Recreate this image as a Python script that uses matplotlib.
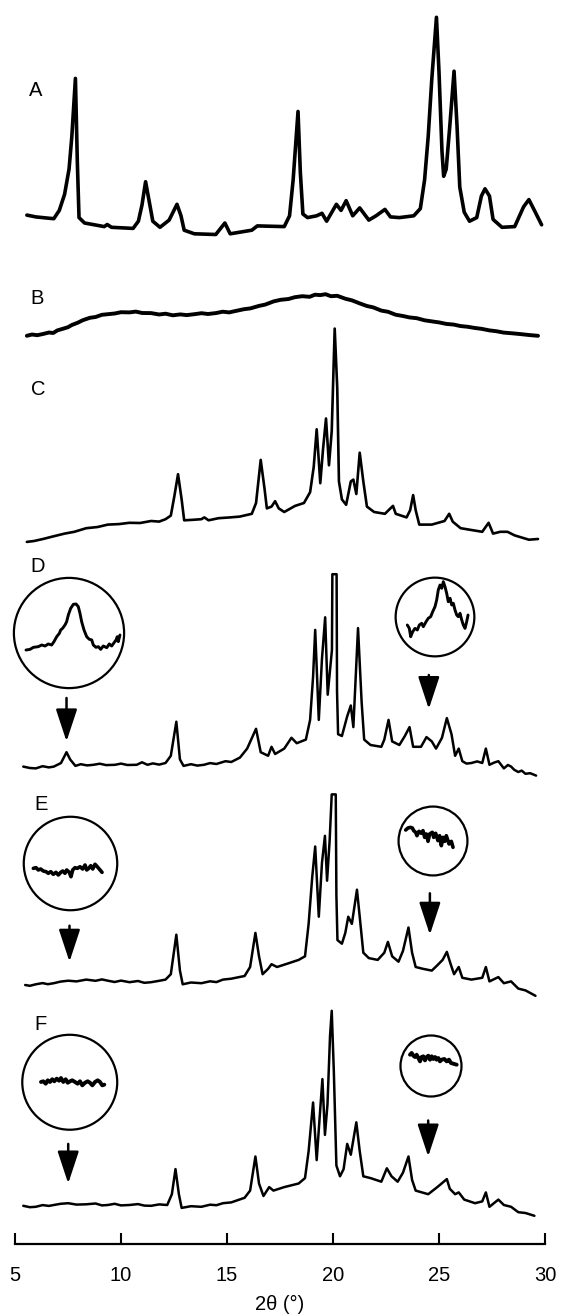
import matplotlib
matplotlib.use('Agg')
import matplotlib.pyplot as plt
from matplotlib.patches import Circle, FancyArrowPatch

# ---------------- data (2theta in degrees, intensity in a.u.) ----------------
A_x = [5.56, 5.98, 6.49, 6.83, 7.09, 7.34, 7.55, 7.68, 7.85, 7.94, 8.02, 8.28, 9.21, 9.35, 9.55,
       10.57, 10.82, 10.99, 11.16, 11.33, 11.50, 11.84, 12.27, 12.64, 12.83, 12.98, 13.46, 14.47,
       14.90, 15.15, 16.17, 16.43, 17.70, 17.95, 18.12, 18.35, 18.46, 18.58, 18.80, 19.23, 19.48,
       19.70, 20.16, 20.38, 20.62, 20.93, 21.26, 21.69, 22.03, 22.45, 22.71, 23.13, 23.81, 24.12,
       24.32, 24.49, 24.66, 24.88, 25.00, 25.14, 25.22, 25.34, 25.51, 25.71, 25.85, 25.98, 26.19,
       26.44, 26.78, 27.00, 27.17, 27.38, 27.55, 27.97, 28.57, 28.99, 29.24, 29.50, 29.84]
A_y = [19.9, 18.1, 17.0, 16.3, 24.6, 40.8, 66.0, 98.3, 156.6, 73.1, 17.4, 12.0, 8.4, 10.5, 7.7,
       6.6, 13.8, 30.0, 53.3, 33.6, 13.8, 7.7, 14.9, 30.7, 19.2, 4.8, 1.2, 0.5,
       12.0, 1.2, 4.8, 9.1, 8.4, 19.2, 55.1, 123.5, 62.3, 21.0, 17.4, 19.2, 21.7,
       13.8, 30.7, 24.6, 34.3, 19.2, 27.1, 14.9, 19.2, 25.6, 18.1, 17.4, 19.2, 26.4,
       55.1, 98.3, 155.9, 217.7, 163.1, 83.9, 58.7, 65.9, 109.1, 163.8, 109.1, 47.9, 22.8,
       13.8, 17.4, 39.0, 46.2, 39.0, 15.6, 7.7, 8.4, 28.2, 35.4, 24.6, 10.2]

B_x = [5.56, 5.8, 6.05, 6.32, 6.6, 6.8, 7.0, 7.3, 7.5, 7.68, 7.95, 8.2, 8.53, 8.8, 9.1, 9.38, 9.7,
       10.0, 10.4, 10.7, 11.0, 11.42, 11.8, 12.1, 12.44, 12.8, 13.1, 13.46, 13.8, 14.1, 14.47, 14.8,
       15.1, 15.49, 15.8, 16.1, 16.51, 16.8, 17.2, 17.53, 17.9, 18.2, 18.55, 18.9, 19.15, 19.4,
       19.65, 19.9, 20.2, 20.58, 20.9, 21.26, 21.6, 21.9, 22.28, 22.6, 22.95, 23.3, 23.6, 23.95,
       24.32, 24.7, 25.0, 25.34, 25.7, 26.0, 26.36, 26.7, 27.0, 27.38, 27.7, 28.05, 28.4, 28.8,
       29.24, 29.45, 29.67]
B_y = [4.2, 5.5, 4.8, 6.0, 7.5, 7.0, 9.6, 11.5, 12.8, 15.0, 17.2, 19.8, 22.2, 23.0, 25.2, 25.8, 26.5,
       27.8, 27.6, 28.4, 27.0, 26.9, 25.5, 26.3, 24.7, 25.6, 24.9, 25.8, 26.8, 26.0, 26.9, 28.3,
       27.6, 29.4, 30.8, 31.6, 34.1, 35.4, 38.6, 40.2, 41.0, 42.8, 43.8, 43.2, 45.3, 44.9,
       45.8, 43.8, 44.2, 41.3, 39.6, 36.6, 34.0, 32.6, 29.4, 28.2, 25.3, 24.0, 22.6, 21.8,
       19.7, 18.5, 17.6, 16.1, 15.4, 14.0, 13.2, 12.0, 11.2, 9.6, 8.8, 7.4, 6.8, 6.0,
       5.0, 4.6, 4.2]

C_x = [5.56, 5.9, 6.32, 6.8, 7.34, 7.8, 8.36, 8.9, 9.38, 9.9, 10.40, 10.9, 11.42, 11.8, 12.10,
       12.35, 12.52, 12.69, 12.86, 12.98, 13.4, 13.79, 13.93, 14.13, 14.6, 15.15, 15.6, 16.17,
       16.37, 16.59, 16.77, 16.88, 17.10, 17.27, 17.44, 17.70, 18.21, 18.63, 18.92, 19.09, 19.23,
       19.40, 19.53, 19.67, 19.81, 19.94, 20.08, 20.20, 20.28, 20.42, 20.62, 20.84, 20.96, 21.10,
       21.26, 21.43, 21.60, 21.94, 22.45, 22.62, 22.83, 22.96, 23.47, 23.64, 23.78, 23.90, 24.07,
       24.66, 25.26, 25.48, 25.65, 26.02, 26.53, 27.04, 27.34, 27.55, 27.89, 28.23, 28.57, 29.24,
       29.67]
C_y = [3.1, 4.0, 6.0, 8.6, 11.4, 13.2, 16.8, 18.0, 20.4, 20.9, 22.2, 22.0, 24.0, 23.4, 25.8,
       29.4, 49.2, 70.8, 45.6, 24.7, 25.2, 25.8, 27.6, 24.7, 26.8, 27.6, 28.4, 31.2,
       42.0, 85.1, 56.4, 36.6, 38.4, 43.8, 36.6, 33.0, 39.1, 42.0, 52.8, 78.0, 115.7,
       61.8, 95.9, 126.5, 79.7, 113.9, 216.4, 157.1, 63.6, 45.6, 40.2, 63.6, 65.4, 51.0,
       92.3, 63.6, 38.4, 33.0, 31.2, 34.8, 39.1, 31.2, 27.6, 34.8, 49.9, 34.8, 20.4,
       20.4, 24.0, 31.2, 23.3, 16.8, 15.0, 13.2, 22.2, 11.4, 13.2, 13.2, 9.6, 5.3,
       6.0]

D_x = [5.39, 5.7, 5.98, 6.3, 6.6, 6.83, 7.17, 7.43, 7.60, 7.85, 8.1, 8.4, 8.70, 9.0, 9.3, 9.72,
       10.0, 10.3, 10.74, 10.99, 11.25, 11.5, 11.8, 12.10, 12.35, 12.61, 12.78, 12.95, 13.3, 13.6,
       13.91, 14.2, 14.5, 14.93, 15.2, 15.61, 15.95, 16.37, 16.59, 16.94, 17.10, 17.27, 17.70,
       18.04, 18.29, 18.72, 18.92, 19.06, 19.16, 19.33, 19.48, 19.63, 19.75, 19.95, 19.97, 20.17,
       20.19, 20.24, 20.42, 20.67, 20.84, 20.96, 21.18, 21.35, 21.47, 21.77, 22.28, 22.42, 22.62,
       22.79, 23.13, 23.39, 23.61, 23.78, 24.15, 24.41, 24.66, 24.86, 25.14, 25.37, 25.59, 25.76,
       25.93, 26.10, 26.3, 26.53, 26.8, 27.04, 27.21, 27.38, 27.6, 27.80, 28.06, 28.25, 28.40,
       28.55, 28.74, 28.9, 29.08, 29.3, 29.58]
D_y = [13.4, 12.0, 11.6, 13.8, 12.6, 13.4, 17.0, 27.8, 20.6, 14.1, 15.8, 14.6, 15.2, 16.3, 14.9, 15.2,
       16.4, 15.0, 15.2, 17.7, 15.2, 16.6, 15.4, 17.0, 24.2, 58.3, 20.6, 14.1, 15.8, 14.4,
       15.2, 16.9, 16.0, 18.8, 18.0, 22.4, 31.4, 51.2, 27.8, 24.2, 33.2, 26.0, 31.4,
       42.2, 36.8, 40.4, 60.1, 103.3, 150.1, 60.1, 121.3, 162.7, 85.3, 130.0, 205.8, 205.8,
       88.9, 45.8, 44.0, 63.7, 74.5, 52.9, 151.9, 78.1, 40.4, 35.0, 33.2, 40.4, 60.1,
       38.6, 35.0, 44.0, 52.9, 33.2, 33.2, 42.9, 38.6, 31.4, 42.2, 61.9, 45.8, 24.2,
       31.4, 18.8, 16.4, 17.0, 18.6, 17.0, 31.4, 15.2, 17.4, 18.8, 11.6, 15.0, 13.4,
       10.2, 8.0, 9.4, 6.2, 6.8, 4.4]

E_x = [5.48, 5.7, 5.98, 6.3, 6.55, 6.83, 7.15, 7.51, 7.9, 8.36, 8.8, 9.1, 9.38, 9.7, 10.0, 10.40,
       10.8, 11.1, 11.42, 11.8, 12.10, 12.35, 12.61, 12.78, 12.91, 13.3, 13.79, 14.2, 14.5, 14.81,
       15.2, 15.5, 15.83, 16.09, 16.34, 16.51, 16.68, 16.94, 17.10, 17.36, 17.87, 18.38, 18.68,
       18.85, 19.02, 19.16, 19.33, 19.48, 19.62, 19.72, 19.84, 19.94, 20.13, 20.16, 20.21, 20.42,
       20.58, 20.72, 20.89, 21.13, 21.26, 21.43, 21.69, 22.11, 22.42, 22.59, 22.79, 23.09, 23.30,
       23.56, 23.73, 23.90, 24.24, 24.66, 24.92, 25.17, 25.37, 25.54, 25.71, 25.93, 26.10, 26.53,
       27.04, 27.21, 27.38, 27.80, 28.06, 28.40, 28.74, 29.08, 29.55]
E_y = [15.0, 14.2, 15.7, 16.9, 15.8, 16.8, 18.4, 19.3, 18.6, 20.4, 19.2, 20.6, 19.3, 18.0, 19.4, 17.8,
       19.0, 17.2, 17.8, 19.2, 20.4, 25.8, 65.3, 29.4, 15.7, 17.5, 16.8, 18.7, 17.9, 20.4,
       21.3, 22.6, 24.0, 33.0, 67.1, 43.7, 25.8, 31.2, 35.8, 33.0, 36.5, 40.1, 43.7,
       76.1, 122.9, 153.5, 83.3, 137.3, 164.2, 119.3, 158.8, 205.6, 205.6, 104.9, 59.9, 56.3,
       67.1, 83.3, 76.1, 110.3, 83.3, 47.3, 41.9, 40.1, 47.3, 58.1, 43.7, 38.3, 49.1,
       72.5, 47.3, 33.0, 31.2, 29.4, 34.7, 40.1, 48.1, 36.5, 25.8, 33.0, 22.2, 20.4,
       22.2, 33.0, 18.6, 22.9, 16.8, 18.6, 11.4, 9.6, 4.2]

F_x = [5.39, 5.7, 5.98, 6.3, 6.6, 6.83, 7.15, 7.51, 7.9, 8.36, 8.8, 9.1, 9.38, 9.7, 10.0, 10.40,
       10.8, 11.1, 11.42, 11.8, 12.18, 12.40, 12.57, 12.73, 12.86, 13.3, 13.79, 14.2, 14.5, 14.81,
       15.2, 15.5, 15.83, 16.09, 16.34, 16.51, 16.72, 16.99, 17.19, 17.70, 18.38, 18.68, 18.85,
       19.06, 19.23, 19.36, 19.50, 19.62, 19.74, 19.86, 19.94, 20.04, 20.16, 20.33, 20.50, 20.67,
       20.84, 21.10, 21.26, 21.43, 21.77, 22.28, 22.54, 22.76, 23.05, 23.30, 23.56, 23.73, 23.90,
       24.49, 24.92, 25.37, 25.51, 25.76, 25.93, 26.19, 26.70, 27.04, 27.21, 27.38, 27.80, 28.06,
       28.40, 28.74, 29.08, 29.50]
F_y = [14.2, 12.8, 13.2, 14.9, 14.1, 15.0, 16.2, 16.8, 15.4, 15.7, 16.5, 14.6, 15.0, 16.2, 14.6, 15.0,
       15.9, 14.4, 14.2, 15.6, 15.0, 25.8, 50.9, 25.8, 12.1, 13.8, 13.2, 15.3, 14.8, 16.8,
       17.6, 19.8, 22.2, 29.4, 63.5, 36.5, 24.0, 32.9, 29.4, 32.9, 36.5, 41.9, 68.9,
       117.5, 59.9, 99.5, 140.9, 85.1, 115.7, 184.0, 209.2, 148.1, 54.5, 43.7, 50.9, 76.1,
       65.3, 97.7, 68.9, 43.7, 41.9, 38.3, 51.7, 43.7, 38.3, 47.3, 63.5, 40.1, 29.4,
       25.8, 32.9, 40.9, 31.2, 25.8, 27.6, 20.4, 16.8, 18.6, 27.6, 13.2, 20.4, 15.0,
       13.2, 7.8, 7.0, 4.2]

# magnified insets (local units 0-100 across each circle)
D1_u = [11.6, 15.2, 18.2, 22.6, 25.6, 28.6, 31.5, 34.5, 36.6, 39.0, 41.4, 42.6, 44.3, 46.4, 47.9,
        49.4, 51.5, 53.9, 56.3, 58.3, 59.8, 61.3, 63.4, 65.8, 68.1, 70.3, 71.7, 74.1, 76.2, 78.3,
        80.6, 83.7, 86.0, 88.1, 90.2, 92.0, 93.1, 94.0, 95.5]
D1_v = [34.8, 35.4, 37.2, 37.8, 39.3, 38.4, 40.2, 39.3, 42.3, 46.7, 49.7, 52.7, 54.2, 57.1, 60.1,
        66.1, 72.0, 75.6, 75.9, 73.5, 67.6, 60.1, 52.7, 46.7, 44.4, 43.8, 39.3, 37.2, 37.8, 35.4,
        38.4, 36.9, 40.2, 38.4, 41.3, 43.8, 46.7, 42.3, 48.2]
D2_u = [15.4, 17.9, 19.6, 22.1, 25.0, 27.9, 30.4, 33.3, 35.4, 38.8, 41.6, 44.6, 47.1, 50.0, 52.1,
        54.1, 56.3, 58.4, 60.4, 62.5, 64.6, 66.6, 68.8, 70.9, 72.9, 75.0, 77.1, 79.1, 81.3, 83.4,
        85.4, 87.5, 89.6, 91.3]
D2_v = [40.0, 35.8, 25.4, 31.6, 35.8, 33.8, 40.0, 42.1, 37.9, 44.1, 48.4, 50.4, 56.6, 62.9, 71.3,
        83.8, 90.0, 85.9, 94.1, 87.9, 79.6, 69.1, 73.4, 65.0, 67.1, 58.8, 52.5, 50.4, 54.6, 46.3,
        40.0, 35.8, 44.1, 52.5]
E1_u = [10.9, 13.7, 16.1, 18.6, 21.4, 24.2, 26.6, 29.2, 31.9, 34.7, 37.2, 39.7, 41.8, 44.2, 46.0,
        48.7, 50.5, 52.3, 54.7, 57.2, 60.0, 62.8, 65.3, 67.1, 69.2, 71.3, 73.4, 75.8, 78.2, 81.1, 83.2]
E1_v = [44.9, 45.6, 43.2, 44.2, 42.1, 41.4, 39.7, 41.4, 38.6, 40.7, 37.9, 40.7, 42.1, 39.7, 43.2,
        40.7, 36.1, 43.2, 45.6, 44.9, 46.6, 44.2, 48.4, 43.2, 44.9, 47.7, 44.2, 49.2, 46.6, 43.2, 40.7]
E2_u = [11.0, 14.3, 17.6, 20.5, 22.4, 25.2, 27.1, 30.0, 33.3, 35.7, 38.1, 40.5, 42.9, 45.2, 49.0,
        51.0, 53.8, 57.1, 59.5, 61.9, 64.3, 66.7, 69.0, 72.9, 76.2, 78.6]
E2_v = [65.7, 68.6, 69.5, 68.6, 64.8, 62.4, 57.6, 63.8, 61.0, 64.8, 55.2, 60.0, 49.5, 60.0, 62.4,
        55.2, 61.0, 50.5, 57.6, 43.3, 55.2, 49.5, 57.6, 45.7, 49.5, 41.0]
F1_u = [20.2, 22.6, 25.1, 27.2, 29.5, 31.9, 34.0, 36.5, 38.9, 40.9, 43.3, 45.8, 47.9, 50.3, 52.6,
        55.4, 58.2, 60.6, 63.0, 65.8, 68.6, 71.0, 73.4, 76.2, 79.0, 81.3, 83.7, 85.8]
F1_v = [50.3, 51.0, 48.5, 52.0, 50.3, 53.1, 51.0, 53.7, 51.6, 54.4, 50.3, 53.1, 49.5, 51.0, 52.0,
        50.3, 48.5, 51.0, 46.8, 49.5, 51.0, 49.5, 46.8, 50.3, 52.0, 50.3, 46.8, 47.5]
F2_u = [16.1, 18.8, 21.5, 24.2, 26.9, 29.6, 32.3, 34.9, 37.6, 40.3, 43.0, 45.7, 48.4, 51.1, 53.8,
        56.5, 59.1, 61.8, 64.5, 67.2, 71.5, 75.3, 79.0, 82.3, 86.0, 91.4]
F2_v = [68.2, 71.0, 66.6, 64.5, 68.2, 62.9, 57.5, 64.5, 65.6, 59.1, 64.5, 66.6, 60.2, 65.6, 61.3,
        64.5, 60.2, 62.9, 57.5, 60.2, 61.3, 57.5, 60.2, 54.8, 53.7, 52.1]

labels = ['A', 'B', 'C', 'D', 'E', 'F']
xticks = [5, 10, 15, 20, 25, 30]
arrow_2theta = {'D': (7.43, 24.52), 'E': (7.57, 24.57), 'F': (7.51, 24.49)}

# ---------------- layout ----------------
W, H = 564, 1315
plt.rcParams['font.family'] = ['Liberation Sans', 'DejaVu Sans']
fig = plt.figure(figsize=(W / 100, H / 100), dpi=100)
ax = fig.add_axes([15 / W, 71 / H, 530 / W, 1244 / H])
ax.set_xlim(5, 30)
ax.set_ylim(0, 1244)
ax.patch.set_alpha(0)
for s in ['top', 'left', 'right']:
    ax.spines[s].set_visible(False)
ax.spines['bottom'].set_linewidth(1.6)
ax.set_yticks([])
ax.set_xticks(xticks)
ax.set_xticklabels([str(t) for t in xticks])
ax.tick_params(axis='x', direction='in', length=8, width=1.5, pad=16, labelsize=14.5)
ax.set_xlabel('2θ (°)', fontsize=14.5, labelpad=7)

offsets = {'A': 1009, 'B': 904, 'C': 699, 'D': 464, 'E': 244, 'F': 24}
series = {'A': (A_x, A_y), 'B': (B_x, B_y), 'C': (C_x, C_y),
          'D': (D_x, D_y), 'E': (E_x, E_y), 'F': (F_x, F_y)}
widths = {'A': 2.6, 'B': 2.8, 'C': 1.9, 'D': 1.8, 'E': 1.8, 'F': 1.8}
for k in labels:
    xs, ys = series[k]
    ax.plot(xs, [offsets[k] + v for v in ys], color='black', lw=widths[k],
            solid_joinstyle='round', solid_capstyle='round')

# panel letters
label_pos = {'A': (28.8, 96), 'B': (30.6, 303.5), 'C': (30.6, 394.5),
             'D': (30.6, 572), 'E': (34.2, 810.5), 'F': (34.2, 1030.5)}
for k in labels:
    px, py = label_pos[k]
    fig.text(px / W, 1 - py / H, k, fontsize=14.5, ha='left', va='baseline')

# arrows (tail, tip heights relative to each trace offset)
arrow_levels = {'D': ((82, 38.6), (105, 71)), 'E': ((74.3, 38.3), (106.7, 65.3)),
                'F': ((76.1, 36.5), (99.5, 63.5))}
for k, (xl, xr) in arrow_2theta.items():
    for x, (tail, tip) in zip((xl, xr), arrow_levels[k]):
        arr = FancyArrowPatch((x, offsets[k] + tail), (x, offsets[k] + tip),
                              arrowstyle='-|>,head_length=1.0,head_width=0.33',
                              mutation_scale=20, lw=1.8, color='black',
                              shrinkA=0, shrinkB=0)
        ax.add_patch(arr)

# inset circles
insets = [
    (13, 577, 112, D1_u, D1_v, 2.1),
    (395, 577, 80, D2_u, D2_v, 2.1),
    (23, 816, 95, E1_u, E1_v, 2.6),
    (398, 806, 70, E2_u, E2_v, 2.6),
    (21.5, 1034, 96.5, F1_u, F1_v, 2.8),
    (400, 1035, 62, F2_u, F2_v, 2.8),
]
for left, top, d, u, v, lw in insets:
    ins = fig.add_axes([left / W, 1 - (top + d) / H, d / W, d / H])
    ins.set_xlim(0, 100)
    ins.set_ylim(0, 100)
    ins.axis('off')
    ins.add_patch(Circle((50, 50), 49.2, fill=False, lw=1.6, color='black', clip_on=False))
    ins.plot(u, v, color='black', lw=lw, solid_joinstyle='round', solid_capstyle='round')

fig.savefig('out.png', dpi=100)
